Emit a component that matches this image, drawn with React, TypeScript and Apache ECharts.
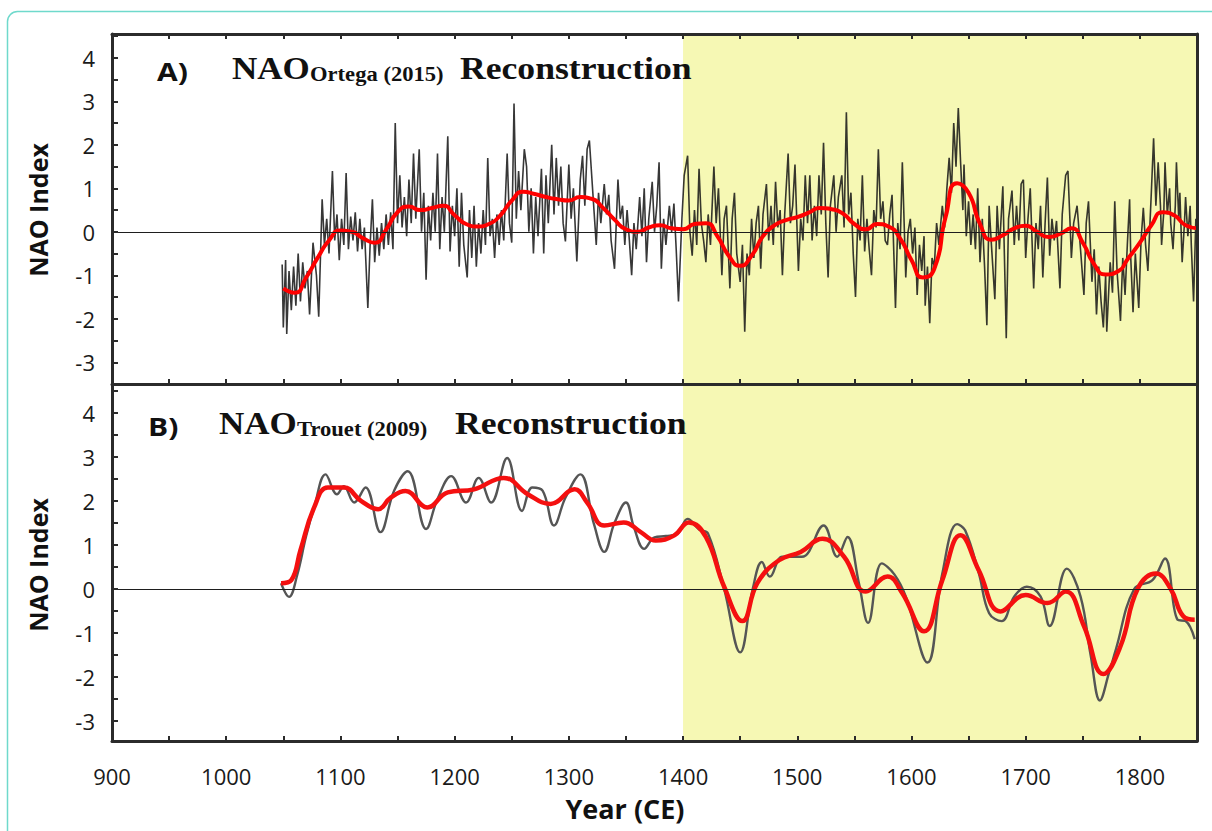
import React, { useEffect, useRef } from "react";
import * as echarts from "echarts";

// ---------- axis ticks / labels ----------
const xTickYears = [900, 950, 1000, 1050, 1100, 1150, 1200, 1250, 1300, 1350, 1400, 1450, 1500, 1550, 1600, 1650, 1700, 1750, 1800, 1850];
const xLabelYears = [900, 1000, 1100, 1200, 1300, 1400, 1500, 1600, 1700, 1800];
const yLabelValues = [-3, -2, -1, 0, 1, 2, 3, 4];
const yTickValues = [-3.5, -3, -2.5, -2, -1.5, -1, -0.5, 0, 0.5, 1, 1.5, 2, 2.5, 3, 3.5, 4, 4.5];

// ---------- Panel A: NAO Ortega (2015), annual ----------
const ortegaAnnual: [number, number][] = [
  [1049, -0.75], [1050, -2.2], [1052, -0.65], [1053, -2.35], [1055, -0.9], [1057, -1.8], [1059, -0.8], [1061, -1.7],
  [1063, -0.5], [1065, -1.6], [1067, -0.7], [1069, -1.3], [1071, -0.9], [1073, -1.9], [1076, -0.25], [1079, -1.0],
  [1081, -1.95], [1084, 0.75], [1086, -0.3], [1088, 0.3], [1090, -0.5], [1093, 1.4], [1095, -0.2], [1097, 0.4],
  [1099, -0.65], [1101, 0.3], [1103, -0.3], [1105, 1.35], [1107, -0.4], [1109, 0.35], [1111, -0.2], [1113, 0.45],
  [1115, -0.45], [1117, 0.3], [1119, -0.4], [1121, 0.1], [1124, -1.75], [1126, -0.3], [1128, 0.75], [1130, -0.7],
  [1132, 0.1], [1134, -0.55], [1136, 0.2], [1138, -0.4], [1140, 0.4], [1142, -0.3], [1144, 0.45], [1146, -0.4],
  [1148, 2.5], [1150, 0.2], [1152, 1.3], [1154, 0.1], [1156, 0.8], [1158, -0.1], [1160, 1.2], [1162, 0.2],
  [1164, 1.8], [1166, 0.3], [1169, 1.9], [1171, 0.0], [1173, 0.9], [1175, -1.1], [1177, 0.6], [1179, -0.2],
  [1181, 0.9], [1183, 0.0], [1185, 1.8], [1187, -0.4], [1189, 0.8], [1191, 0.0], [1194, 2.2], [1196, -0.45],
  [1198, 0.6], [1200, -0.1], [1202, 1.0], [1204, -0.8], [1206, 0.9], [1208, -0.3], [1211, -1.05], [1213, 0.5],
  [1215, -0.6], [1217, 0.6], [1219, -0.8], [1221, 0.2], [1223, -0.5], [1225, 0.5], [1227, -0.3], [1229, 1.7],
  [1231, -0.1], [1233, 0.3], [1235, -0.6], [1237, 0.4], [1239, -0.3], [1241, 0.5], [1243, -0.2], [1246, 1.8],
  [1248, 0.2], [1250, -0.25], [1252, 2.95], [1254, 0.3], [1256, 1.4], [1258, 0.5], [1261, 1.9], [1263, 1.5],
  [1265, 0.0], [1267, 1.0], [1269, -0.5], [1271, 0.8], [1273, -0.1], [1276, 1.45], [1278, -0.5], [1280, 1.3],
  [1282, 0.2], [1285, 2.0], [1287, 0.4], [1289, 1.7], [1291, 0.6], [1293, 1.5], [1295, 0.2], [1297, -0.22],
  [1300, 1.55], [1302, 0.3], [1304, 1.0], [1307, -0.68], [1310, 1.2], [1312, 1.75], [1314, 0.6], [1316, 1.9],
  [1318, 2.1], [1320, 1.3], [1322, 0.5], [1324, -0.3], [1326, 0.9], [1328, 0.2], [1331, 1.1], [1333, 0.4],
  [1335, 0.85], [1337, -0.2], [1340, -0.85], [1343, 1.2], [1345, 0.3], [1347, 0.6], [1349, -0.3], [1351, 0.5],
  [1353, -0.2], [1355, -1.0], [1357, 0.2], [1359, -0.4], [1362, 0.8], [1364, -0.1], [1366, 1.0], [1368, -0.7],
  [1370, 0.3], [1373, 1.15], [1375, 0.0], [1377, 0.6], [1379, 1.6], [1381, -0.85], [1383, 0.3], [1385, -0.3],
  [1388, 0.6], [1390, 0.0], [1392, 0.65], [1394, -0.4], [1396, -1.6], [1399, 0.3], [1401, 1.3], [1404, 1.75],
  [1406, 0.0], [1408, -0.55], [1410, 0.5], [1412, -0.3], [1414, 1.45], [1416, 0.2], [1418, -0.2], [1420, -0.7],
  [1422, 0.4], [1424, -0.3], [1427, 1.5], [1429, 0.2], [1431, 1.0], [1434, -1.0], [1436, 0.3], [1438, 0.6],
  [1441, -1.3], [1443, 0.3], [1445, 0.9], [1447, -0.5], [1450, -1.15], [1452, -0.3], [1454, -2.3], [1456, -0.5],
  [1458, -1.0], [1460, 0.3], [1462, -0.6], [1464, 0.2], [1466, 0.6], [1468, -0.85], [1470, 0.4], [1473, 1.1],
  [1475, -0.2], [1477, 0.6], [1479, -0.3], [1481, 1.15], [1483, 0.1], [1485, 0.5], [1487, -1.0], [1489, 0.4],
  [1492, 1.8], [1494, 0.2], [1496, 0.6], [1498, 1.55], [1501, -0.9], [1503, 0.3], [1505, -0.2], [1507, 1.3],
  [1509, 0.2], [1511, 1.3], [1513, -0.2], [1515, 0.6], [1517, -0.1], [1519, 1.3], [1521, 0.4], [1523, 2.05],
  [1525, 0.2], [1527, -1.05], [1529, 0.6], [1532, 1.3], [1534, 0.0], [1536, 0.8], [1539, 1.3], [1541, 0.1],
  [1543, 2.75], [1545, 0.4], [1547, 0.9], [1549, -0.5], [1551, -1.5], [1553, 0.3], [1555, -0.2], [1557, 1.3],
  [1559, -0.45], [1561, 0.3], [1563, -0.4], [1565, -1.0], [1567, 0.5], [1569, 0.1], [1571, 1.9], [1573, 0.3],
  [1575, 0.7], [1577, -0.2], [1579, -0.3], [1581, 0.4], [1583, 0.85], [1586, -1.75], [1588, 0.2], [1590, -0.4],
  [1592, 1.6], [1595, -1.05], [1597, 0.0], [1599, 0.3], [1601, -0.5], [1603, 0.1], [1605, -1.45], [1607, -0.3],
  [1609, -0.9], [1611, -0.1], [1612, -1.7], [1614, -0.8], [1616, -2.1], [1618, -0.6], [1620, -0.8], [1622, 0.2],
  [1624, -0.3], [1627, 0.6], [1629, 0.1], [1631, 1.0], [1633, 1.7], [1635, 0.9], [1637, 2.5], [1639, 1.5],
  [1641, 2.85], [1643, 1.6], [1645, 0.5], [1646, 1.55], [1648, -0.1], [1650, 0.7], [1652, -0.3], [1654, 0.4],
  [1656, -0.4], [1658, 1.0], [1660, -0.7], [1662, 0.3], [1664, -0.8], [1666, -2.15], [1668, 0.6], [1670, -0.3],
  [1673, -1.55], [1675, 0.6], [1677, -0.4], [1680, 1.05], [1683, -2.45], [1685, 0.3], [1688, 0.95], [1690, -0.3],
  [1692, 0.6], [1694, -0.2], [1696, 1.1], [1698, 1.2], [1700, -0.6], [1702, 0.3], [1704, 1.0], [1707, -1.3],
  [1709, 0.2], [1711, -0.4], [1713, 0.6], [1715, -1.05], [1717, 0.2], [1719, 1.25], [1721, -0.55], [1723, 0.3],
  [1725, -0.2], [1727, 0.25], [1730, -1.3], [1732, 0.4], [1735, 1.3], [1737, 1.4], [1739, 0.1], [1740, -0.6],
  [1742, 0.2], [1745, 0.6], [1748, -0.4], [1751, -1.45], [1753, 0.2], [1755, 0.7], [1758, -1.15], [1760, -0.4],
  [1762, -1.9], [1764, -0.8], [1766, -1.6], [1768, -2.2], [1770, -1.0], [1771, -2.3], [1773, -1.2], [1774, -0.7],
  [1776, -1.4], [1778, 0.7], [1780, -0.9], [1783, -2.05], [1785, -0.6], [1787, -1.45], [1789, -0.3], [1791, 0.75],
  [1792, -0.6], [1794, -1.85], [1796, -0.5], [1799, -1.75], [1801, -0.2], [1803, 0.55], [1805, -0.3], [1807, -0.9],
  [1809, 0.3], [1810, 0.9], [1812, 2.15], [1814, 0.6], [1816, 1.6], [1818, 0.6], [1819, -0.3], [1821, 0.5],
  [1822, 1.6], [1824, 0.4], [1826, 1.0], [1827, 0.2], [1829, -0.4], [1831, 0.6], [1832, 1.6], [1834, 0.3],
  [1835, 0.9], [1837, -0.7], [1839, 0.2], [1840, 0.8], [1842, -0.1], [1844, 0.6], [1845, -0.3], [1847, -1.6],
  [1849, 0.3], [1850, 0.0],
];

// Panel A smoothed (red), 10-year points
const ortegaSmoothYears = [1050, 1060, 1070, 1080, 1090, 1100, 1110, 1120, 1130, 1140, 1150, 1160, 1170, 1180, 1190, 1200, 1210, 1220, 1230, 1240, 1250, 1260, 1270, 1280, 1290, 1300, 1310, 1320, 1330, 1340, 1350, 1360, 1370, 1380, 1390, 1400, 1410, 1420, 1430, 1440, 1450, 1460, 1470, 1480, 1490, 1500, 1510, 1520, 1530, 1540, 1550, 1560, 1570, 1580, 1590, 1600, 1610, 1620, 1630, 1640, 1650, 1660, 1670, 1680, 1690, 1700, 1710, 1720, 1730, 1740, 1750, 1760, 1770, 1780, 1790, 1800, 1810, 1820, 1830, 1840, 1850];
const ortegaSmoothValues = [-1.3, -1.4, -1.05, -0.6, -0.2, 0.03, 0.0, -0.15, -0.25, 0.05, 0.45, 0.58, 0.5, 0.55, 0.6, 0.38, 0.18, 0.12, 0.18, 0.38, 0.72, 0.92, 0.87, 0.8, 0.75, 0.72, 0.8, 0.76, 0.55, 0.28, 0.06, 0.0, 0.1, 0.15, 0.08, 0.06, 0.18, 0.2, -0.1, -0.55, -0.78, -0.55, -0.1, 0.15, 0.27, 0.34, 0.44, 0.55, 0.52, 0.42, 0.18, 0.06, 0.18, 0.12, -0.15, -0.65, -1.05, -0.85, 0.35, 1.12, 0.9, 0.18, -0.18, -0.08, 0.08, 0.14, 0.0, -0.12, -0.05, 0.08, -0.25, -0.75, -0.98, -0.92, -0.6, -0.25, 0.15, 0.45, 0.38, 0.15, 0.08];

// ---------- Panel B: NAO Trouet (2009) ----------
const trouetYears = [1048, 1055, 1062, 1070, 1077, 1087, 1097, 1103, 1112, 1122, 1135, 1147, 1159, 1175, 1185, 1197, 1210, 1221, 1232, 1246, 1259, 1268, 1277, 1287, 1297, 1310, 1322, 1331, 1340, 1350, 1357, 1366, 1375, 1385, 1395, 1404, 1414, 1422, 1436, 1450, 1461, 1469, 1476, 1487, 1504, 1523, 1535, 1544, 1554, 1562, 1574, 1585, 1595, 1614, 1627, 1640, 1647, 1659, 1668, 1679, 1690, 1701, 1713, 1721, 1736, 1748, 1757, 1765, 1773, 1779, 1795, 1811, 1822, 1833, 1840, 1848];
const trouetValues = [0.13, -0.18, 0.3, 1.2, 1.85, 2.6, 2.15, 2.33, 1.96, 2.3, 1.29, 2.23, 2.67, 1.36, 2.04, 2.56, 1.96, 2.52, 1.96, 2.97, 1.77, 2.3, 2.23, 1.44, 2.07, 2.6, 1.47, 0.84, 1.5, 1.96, 1.4, 0.91, 1.17, 1.2, 1.25, 1.59, 1.35, 1.25, 0.0, -1.44, 0.0, 0.61, 0.28, 0.73, 0.73, 1.44, 0.73, 1.18, 0.13, -0.77, 0.58, 0.33, -0.17, -1.67, 0.35, 1.47, 1.33, 0.35, -0.55, -0.73, -0.17, 0.05, -0.17, -0.84, 0.46, -0.17, -1.52, -2.53, -1.9, -1.37, 0.0, 0.2, 0.69, -0.7, -0.73, -1.14];
const trouetSmoothYears = [1048, 1057, 1065, 1077, 1089, 1103, 1118, 1133, 1144, 1157, 1176, 1194, 1217, 1243, 1264, 1284, 1305, 1316, 1331, 1348, 1363, 1376, 1392, 1405, 1420, 1436, 1452, 1465, 1484, 1503, 1522, 1541, 1560, 1579, 1592, 1611, 1627, 1643, 1659, 1678, 1700, 1719, 1735, 1751, 1768, 1783, 1798, 1814, 1827, 1838, 1848];
const trouetSmoothValues = [0.13, 0.2, 0.88, 1.85, 2.3, 2.3, 2.0, 1.81, 2.07, 2.22, 1.85, 2.19, 2.26, 2.52, 2.15, 1.93, 2.26, 1.96, 1.44, 1.51, 1.29, 1.1, 1.21, 1.51, 1.18, 0.05, -0.73, 0.13, 0.65, 0.84, 1.14, 0.73, -0.06, 0.28, -0.1, -0.96, 0.2, 1.22, 0.42, -0.51, -0.14, -0.32, -0.06, -0.84, -1.93, -1.3, 0.0, 0.35, 0.0, -0.62, -0.7];

const shadeStart = 1400;
const shadeEnd = 1850;

const AXIS_COLOR = "#2b2b2b";
const LABEL_FONT = "'Open Sans', 'DejaVu Sans', sans-serif";
const SERIF = "'Liberation Serif', 'DejaVu Serif', serif";

export default function App() {
  const ref = useRef<HTMLDivElement>(null);

  useEffect(() => {
    document.body.style.margin = "0";
    if (!ref.current) return;
    const chart = echarts.init(ref.current, undefined, { renderer: "svg" });

    const xBase = (gridIndex: number, position: "top" | "bottom", labels: boolean) => ({
      type: "value",
      gridIndex,
      position,
      min: 900,
      max: 1850,
      z: 10,
      axisLine: { show: true, onZero: false, lineStyle: { color: AXIS_COLOR, width: 3 } },
      axisTick: { show: true, inside: true, length: 5, customValues: xTickYears, lineStyle: { color: AXIS_COLOR, width: 2 } },
      axisLabel: labels
        ? {
            show: true,
            customValues: xLabelYears,
            margin: 24,
            fontSize: 22,
            color: "#1a1a1a",
            fontFamily: LABEL_FONT,
            formatter: (v: number) => String(v),
          }
        : { show: false },
      splitLine: { show: false },
    });

    const yBase = (gridIndex: number, min: number, max: number) => ({
      type: "value",
      gridIndex,
      position: "left",
      min,
      max,
      z: 10,
      axisLine: { show: true, onZero: false, lineStyle: { color: AXIS_COLOR, width: 3 } },
      axisTick: { show: true, inside: true, length: 6, customValues: yTickValues.filter((v) => v >= min && v <= max), lineStyle: { color: AXIS_COLOR, width: 2 } },
      axisLabel: { show: true, customValues: yLabelValues, margin: 17, fontSize: 22, color: "#1a1a1a", fontFamily: LABEL_FONT, formatter: (v: number) => String(v) },
      splitLine: { show: false },
    });

    const yRight = (gridIndex: number, min: number, max: number) => ({
      type: "value",
      gridIndex,
      position: "right",
      min,
      max,
      z: 10,
      axisLine: { show: true, onZero: false, lineStyle: { color: AXIS_COLOR, width: 3 } },
      axisTick: { show: false },
      axisLabel: { show: false },
      splitLine: { show: false },
    });

    const shadeSeries = (xi: number, yi: number) => ({
      type: "line",
      xAxisIndex: xi,
      yAxisIndex: yi,
      data: [[1400, 0]],
      symbol: "none",
      lineStyle: { width: 0, opacity: 0 },
      silent: true,
      z: 1,
      markArea: {
        silent: true,
        itemStyle: { color: "#f6f8b4", opacity: 1 },
        data: [[{ xAxis: shadeStart }, { xAxis: shadeEnd }]],
      },
      markLine: {
        silent: true,
        symbol: ["none", "none"],
        label: { show: false },
        lineStyle: { color: "#1e1e1e", width: 1.2, type: "solid" },
        data: [{ yAxis: 0 }],
      },
    });

    const titleText = (x: number, y: number, text: string, font: string, scaleX: number) => ({
      type: "text",
      x,
      y,
      scaleX,
      z: 100,
      style: { text, font, fill: "#111", textAlign: "left", textVerticalAlign: "bottom" },
    });

    const option: any = {
      animation: false,
      backgroundColor: "#ffffff",
      grid: [
        { left: 112, right: 15, top: 34, height: 350 },
        { left: 112, right: 15, top: 384, height: 357 },
      ],
      xAxis: [xBase(0, "bottom", false), xBase(0, "top", false), xBase(1, "bottom", true)],
      yAxis: [yBase(0, -3.5, 4.55), yRight(0, -3.5, 4.55), yBase(1, -3.45, 4.65), yRight(1, -3.45, 4.65)],
      series: [
        shadeSeries(0, 0),
        shadeSeries(2, 2),
        {
          name: "NAO Ortega annual",
          type: "line",
          xAxisIndex: 0,
          yAxisIndex: 0,
          data: ortegaAnnual,
          showSymbol: false,
          symbol: "none",
          lineStyle: { color: "rgba(20,20,20,0.85)", width: 1.6 },
          z: 3,
        },
        {
          name: "NAO Ortega smooth",
          type: "line",
          xAxisIndex: 0,
          yAxisIndex: 0,
          data: ortegaSmoothYears.map((y, i) => [y, ortegaSmoothValues[i]]),
          smooth: 0.6,
          symbol: "none",
          lineStyle: { color: "#ff0000", width: 4 },
          z: 4,
        },
        {
          name: "NAO Trouet",
          type: "line",
          xAxisIndex: 2,
          yAxisIndex: 2,
          data: trouetYears.map((y, i) => [y, trouetValues[i]]),
          smooth: 0.4,
          symbol: "none",
          lineStyle: { color: "#555555", width: 2.4 },
          z: 3,
        },
        {
          name: "NAO Trouet smooth",
          type: "line",
          xAxisIndex: 2,
          yAxisIndex: 2,
          data: trouetSmoothYears.map((y, i) => [y, trouetSmoothValues[i]]),
          smooth: 0.45,
          symbol: "none",
          lineStyle: { color: "#f41010", width: 4.5 },
          z: 4,
        },
      ],
      graphic: [
        {
          type: "rect",
          z: -10,
          shape: { x: 7.5, y: 11.5, width: 1240, height: 860, r: 10 },
          style: { fill: "none", stroke: "#6fd9cc", lineWidth: 1.5 },
        },
        // Panel A title
        titleText(157, 84, "A)", `bold 25px ${LABEL_FONT}`, 1.2),
        titleText(232, 84, "NAO", `bold 31px ${SERIF}`, 1.13),
        titleText(310, 84, "Ortega (2015)", `bold 20px ${SERIF}`, 1.13),
        titleText(460, 84, "Reconstruction", `bold 31px ${SERIF}`, 1.15),
        // Panel B title
        titleText(148, 439, "B)", `bold 25px ${LABEL_FONT}`, 1.2),
        titleText(219, 439, "NAO", `bold 31px ${SERIF}`, 1.13),
        titleText(297, 439, "Trouet (2009)", `bold 20px ${SERIF}`, 1.13),
        titleText(455, 439, "Reconstruction", `bold 31px ${SERIF}`, 1.15),
        // axis names
        {
          type: "text",
          x: 38,
          y: 210,
          rotation: Math.PI / 2,
          z: 100,
          style: { text: "NAO Index", font: `bold 25px ${LABEL_FONT}`, fill: "#111", textAlign: "center", textVerticalAlign: "middle" },
        },
        {
          type: "text",
          x: 38,
          y: 565,
          rotation: Math.PI / 2,
          z: 100,
          style: { text: "NAO Index", font: `bold 25px ${LABEL_FONT}`, fill: "#111", textAlign: "center", textVerticalAlign: "middle" },
        },
        {
          type: "text",
          x: 625,
          y: 808,
          z: 100,
          style: { text: "Year (CE)", font: `bold 27px ${LABEL_FONT}`, fill: "#111", textAlign: "center", textVerticalAlign: "middle" },
        },
      ],
    };

    chart.setOption(option);
    return () => chart.dispose();
  }, []);

  return <div ref={ref} style={{ width: 1212, height: 831 }} />;
}
